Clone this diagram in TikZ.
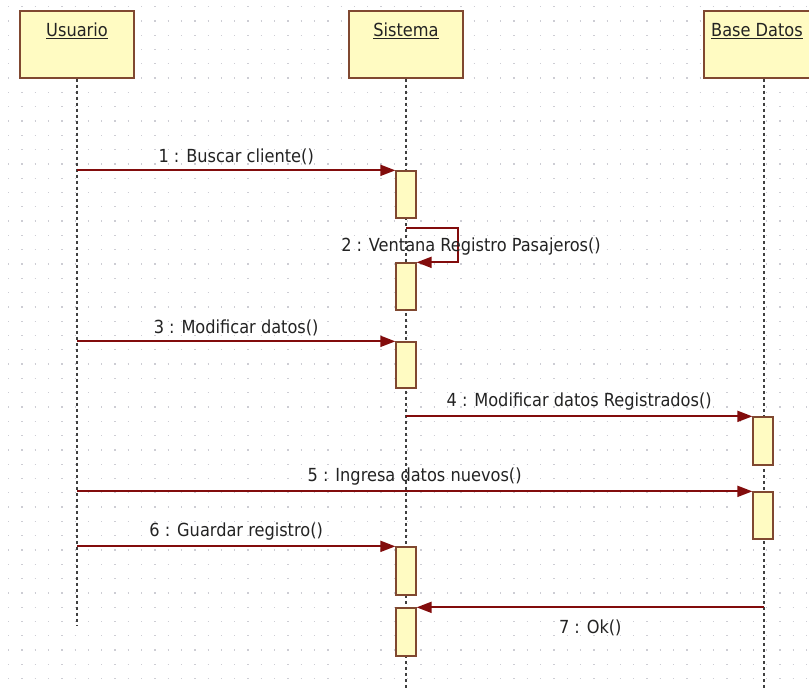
\documentclass[tikz,border=0pt]{standalone}
\usepackage{fontspec}
\setmainfont{DejaVu Sans Condensed}
\usetikzlibrary{arrows.meta}

\definecolor{boxfill}{RGB}{255,251,194}
\definecolor{boxdraw}{RGB}{128,72,48}
\definecolor{msgred}{RGB}{130,12,12}
\definecolor{gridgray}{RGB}{205,205,212}
\definecolor{txt}{RGB}{35,35,35}

\tikzset{
  objbox/.style={draw=boxdraw, fill=boxfill, line width=1.5pt,
    minimum width=114pt, minimum height=67pt, inner sep=0pt},
  objname/.style={font=\fontsize{18}{20}\selectfont, text=txt,
    inner sep=0pt, anchor=base},
  actbox/.style={draw=boxdraw, fill=boxfill, line width=1.3pt,
    minimum width=20pt, inner sep=0pt},
  life/.style={draw=black!75, line width=1.5pt, dash pattern=on 3pt off 3pt},
  msg/.style={draw=msgred, line width=1.9pt,
    -{Triangle[length=15pt,width=11pt]}},
  msglabel/.style={font=\fontsize{18}{20}\selectfont, text=txt, inner sep=0pt},
  dotrow/.style={draw=gridgray, line width=1.3pt, dash pattern=on 1.3pt off 12pt}
}

\begin{document}
\begin{tikzpicture}[x=1pt,y=-1pt]
\useasboundingbox (0,0) rectangle (809,690);
\clip (0,0) rectangle (809,690);
\fill[white] (0,0) rectangle (809,690);

% dotted background grid
\foreach \k in {0,...,48}
  \draw[dotrow] (8,6.6+14.3*\k) -- (809,6.6+14.3*\k);

% object heads
\node[objbox] (usr) at (77,44.5) {};
\node[objbox] (sis) at (406,44.5) {};
\node[objbox, minimum width=120pt] (bd) at (764,44.5) {};
\node[objname] (usrname) at (77,37) {\underline{Usuario}};
\node[objname] (sisname) at (406,37) {\underline{Sistema}};
\node[objname] (bdname) at (757,37) {\underline{Base Datos}};

% lifeline ends
\coordinate (usrend) at (77,625);
\coordinate (sisend) at (406,690);
\coordinate (bdend) at (764,690);

\draw[life] (usr.south) -- (usrend);
\draw[life] (sis.south) -- (sisend);
\draw[life] (bd.south) -- (bdend);

% activation bars
\node[actbox, minimum height=47pt] (a1) at (406,194.5) {};
\node[actbox, minimum height=47pt] (a2) at (406,286.5) {};
\node[actbox, minimum height=46pt] (a3) at (406,365) {};
\node[actbox, minimum height=48pt] (b1) at (763,441) {};
\node[actbox, minimum height=47pt] (b2) at (763,515.5) {};
\node[actbox, minimum height=48pt] (a4) at (406,571) {};
\node[actbox, minimum height=48pt] (a5) at (406,632) {};

% messages
\draw[msg] (a1.north west -| usr) -- (a1.north west)
  node[msglabel, midway, above=5pt] (l1) {1 : Buscar cliente()};

\coordinate (selfstart) at (406,228);
\draw[msg] (selfstart) -- ++(52,0) |- (a2.north east);
\node[msglabel] (l2) at (471,247) {2 : Ventana Registro Pasajeros()};

\draw[msg] (a3.north west -| usr) -- (a3.north west)
  node[msglabel, midway, above=5pt] (l3) {3 : Modificar datos()};

\draw[msg] (b1.north west -| sis) -- (b1.north west)
  node[msglabel, midway, above=5pt] (l4) {4 : Modificar datos Registrados()};

\draw[msg] (b2.north west -| usr) -- (b2.north west)
  node[msglabel, midway, above=5pt] (l5) {5 : Ingresa datos nuevos()};

\draw[msg] (a4.north west -| usr) -- (a4.north west)
  node[msglabel, midway, above=5pt] (l6) {6 : Guardar registro()};

\draw[msg] (a5.north east -| bd) -- (a5.north east)
  node[msglabel, midway, below=12pt] (l7) {7 : Ok()};
\end{tikzpicture}
\end{document}
